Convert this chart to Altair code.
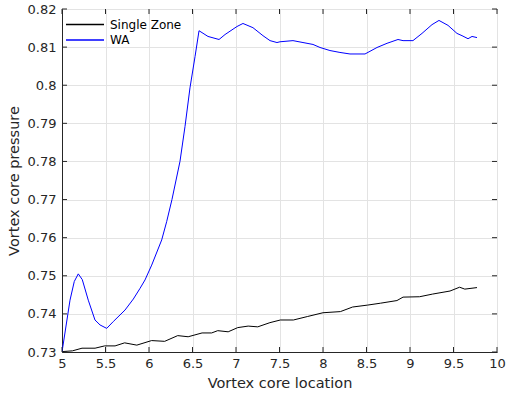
import altair as alt
import pandas as pd

# WA series
wa_x = [5.0, 5.092, 5.141, 5.187, 5.233, 5.302, 5.379, 5.437, 5.514, 5.590, 5.724, 5.820,
        5.897, 5.954, 6.031, 6.146, 6.203, 6.264, 6.356, 6.414, 6.471, 6.529, 6.575, 6.678,
        6.805, 6.874, 7.011, 7.080, 7.195, 7.310, 7.391, 7.471, 7.506, 7.655, 7.770, 7.885,
        7.966, 8.080, 8.195, 8.310, 8.483, 8.540, 8.621, 8.736, 8.862, 8.920, 9.034, 9.138,
        9.253, 9.333, 9.437, 9.540, 9.598, 9.667, 9.713, 9.770]
wa_y = [0.7300, 0.7436, 0.7485, 0.7505, 0.7490, 0.7436, 0.7384, 0.7371, 0.7362, 0.7380, 0.7410, 0.7439,
        0.7467, 0.7489, 0.7528, 0.7594, 0.7642, 0.7700, 0.7800, 0.7892, 0.7993, 0.8075, 0.8143, 0.8128,
        0.8120, 0.8133, 0.8154, 0.8162, 0.8151, 0.8130, 0.8117, 0.8112, 0.8114, 0.8117, 0.8112, 0.8107,
        0.8099, 0.8091, 0.8086, 0.8082, 0.8082, 0.8089, 0.8099, 0.8110, 0.8120, 0.8117, 0.8117, 0.8136,
        0.8159, 0.8170, 0.8157, 0.8136, 0.8130, 0.8122, 0.8128, 0.8125]

# Single Zone series
sz_x = [5.0, 5.12, 5.23, 5.38, 5.49, 5.61, 5.72, 5.86, 6.03, 6.18, 6.33, 6.45, 6.61, 6.72,
        6.79, 6.91, 7.02, 7.14, 7.25, 7.39, 7.51, 7.66, 7.82, 8.00, 8.20, 8.34, 8.51, 8.66,
        8.85, 8.92, 9.11, 9.26, 9.46, 9.57, 9.63, 9.77]
sz_y = [0.7301, 0.7303, 0.7310, 0.7310, 0.7316, 0.7316, 0.7324, 0.7318, 0.7330, 0.7328, 0.7343, 0.7340,
        0.7350, 0.7350, 0.7356, 0.7353, 0.7364, 0.7368, 0.7366, 0.7377, 0.7384, 0.7384, 0.7393, 0.7403,
        0.7406, 0.7418, 0.7423, 0.7428, 0.7435, 0.7444, 0.7445, 0.7452, 0.7460, 0.7470, 0.7465, 0.7469]

series_names = ["Single Zone", "WA"]
series_colors = ["#000000", "#0000ff"]

x_ticks = [5, 5.5, 6, 6.5, 7, 7.5, 8, 8.5, 9, 9.5, 10]
y_ticks = [0.73, 0.74, 0.75, 0.76, 0.77, 0.78, 0.79, 0.80, 0.81, 0.82]

rows = []
for i, (x, y) in enumerate(zip(sz_x, sz_y)):
    rows.append({"series": "Single Zone", "x": x, "y": y, "order": i})
for i, (x, y) in enumerate(zip(wa_x, wa_y)):
    rows.append({"series": "WA", "x": x, "y": y, "order": i})
df = pd.DataFrame(rows)

W, H = 435, 343
FONT = "DejaVu Sans"
AX = "#262626"

xscale = alt.Scale(domain=[5, 10], nice=False, zero=False)
yscale = alt.Scale(domain=[0.73, 0.82], nice=False, zero=False)

common_axis = dict(grid=True, ticks=False, domainColor=AX, labelColor=AX,
                   labelFontSize=13, titleFontSize=14.5, titleColor=AX,
                   labelFont=FONT, titleFont=FONT, titleFontWeight="normal",
                   gridColor="#e3e3e3", labelOverlap=False, labelFlush=False)
x_axis = alt.Axis(values=x_ticks, format="~g", title="Vortex core location",
                  labelPadding=5, titlePadding=6, **common_axis)
y_axis = alt.Axis(values=y_ticks, format=".2~f", title="Vortex core pressure",
                  labelPadding=6, titlePadding=6, **common_axis)

lines = alt.Chart(df).mark_line(strokeWidth=1, clip=True).encode(
    x=alt.X("x:Q", scale=xscale, axis=x_axis),
    y=alt.Y("y:Q", scale=yscale, axis=y_axis),
    stroke=alt.Stroke("series:N", scale=alt.Scale(domain=series_names, range=series_colors),
                      legend=alt.Legend(title=None, orient="none", legendX=3, legendY=8.5,
                                        symbolType="stroke", symbolSize=1444, symbolStrokeWidth=1.3,
                                        clipHeight=14, rowPadding=1.5,
                                        labelFont=FONT, labelFontSize=12, labelColor="#000000",
                                        labelOffset=5, padding=0)),
    order="order:Q",
)

xt = pd.DataFrame({"v": x_ticks})
yt = pd.DataFrame({"v": y_ticks})
TL = 5
xb = alt.Chart(xt).mark_rule(color=AX, strokeWidth=1).encode(
    x=alt.X("v:Q", scale=xscale, axis=x_axis), y=alt.value(H), y2=alt.value(H - TL))
xtp = alt.Chart(xt).mark_rule(color=AX, strokeWidth=1).encode(
    x=alt.X("v:Q", scale=xscale, axis=x_axis), y=alt.value(0), y2=alt.value(TL))
yl = alt.Chart(yt).mark_rule(color=AX, strokeWidth=1).encode(
    y=alt.Y("v:Q", scale=yscale, axis=y_axis), x=alt.value(0), x2=alt.value(TL))
yr = alt.Chart(yt).mark_rule(color=AX, strokeWidth=1).encode(
    y=alt.Y("v:Q", scale=yscale, axis=y_axis), x=alt.value(W), x2=alt.value(W - TL))

chart = alt.layer(lines, xb, xtp, yl, yr).properties(
    width=W, height=H,
    autosize=alt.AutoSizeParams(type="none"),
    padding={"left": 62, "top": 9, "right": 10, "bottom": 47},
    background="white",
).configure_view(stroke=AX, strokeWidth=1)

chart.save("out.html", embed_options={"renderer": "svg", "actions": False})
